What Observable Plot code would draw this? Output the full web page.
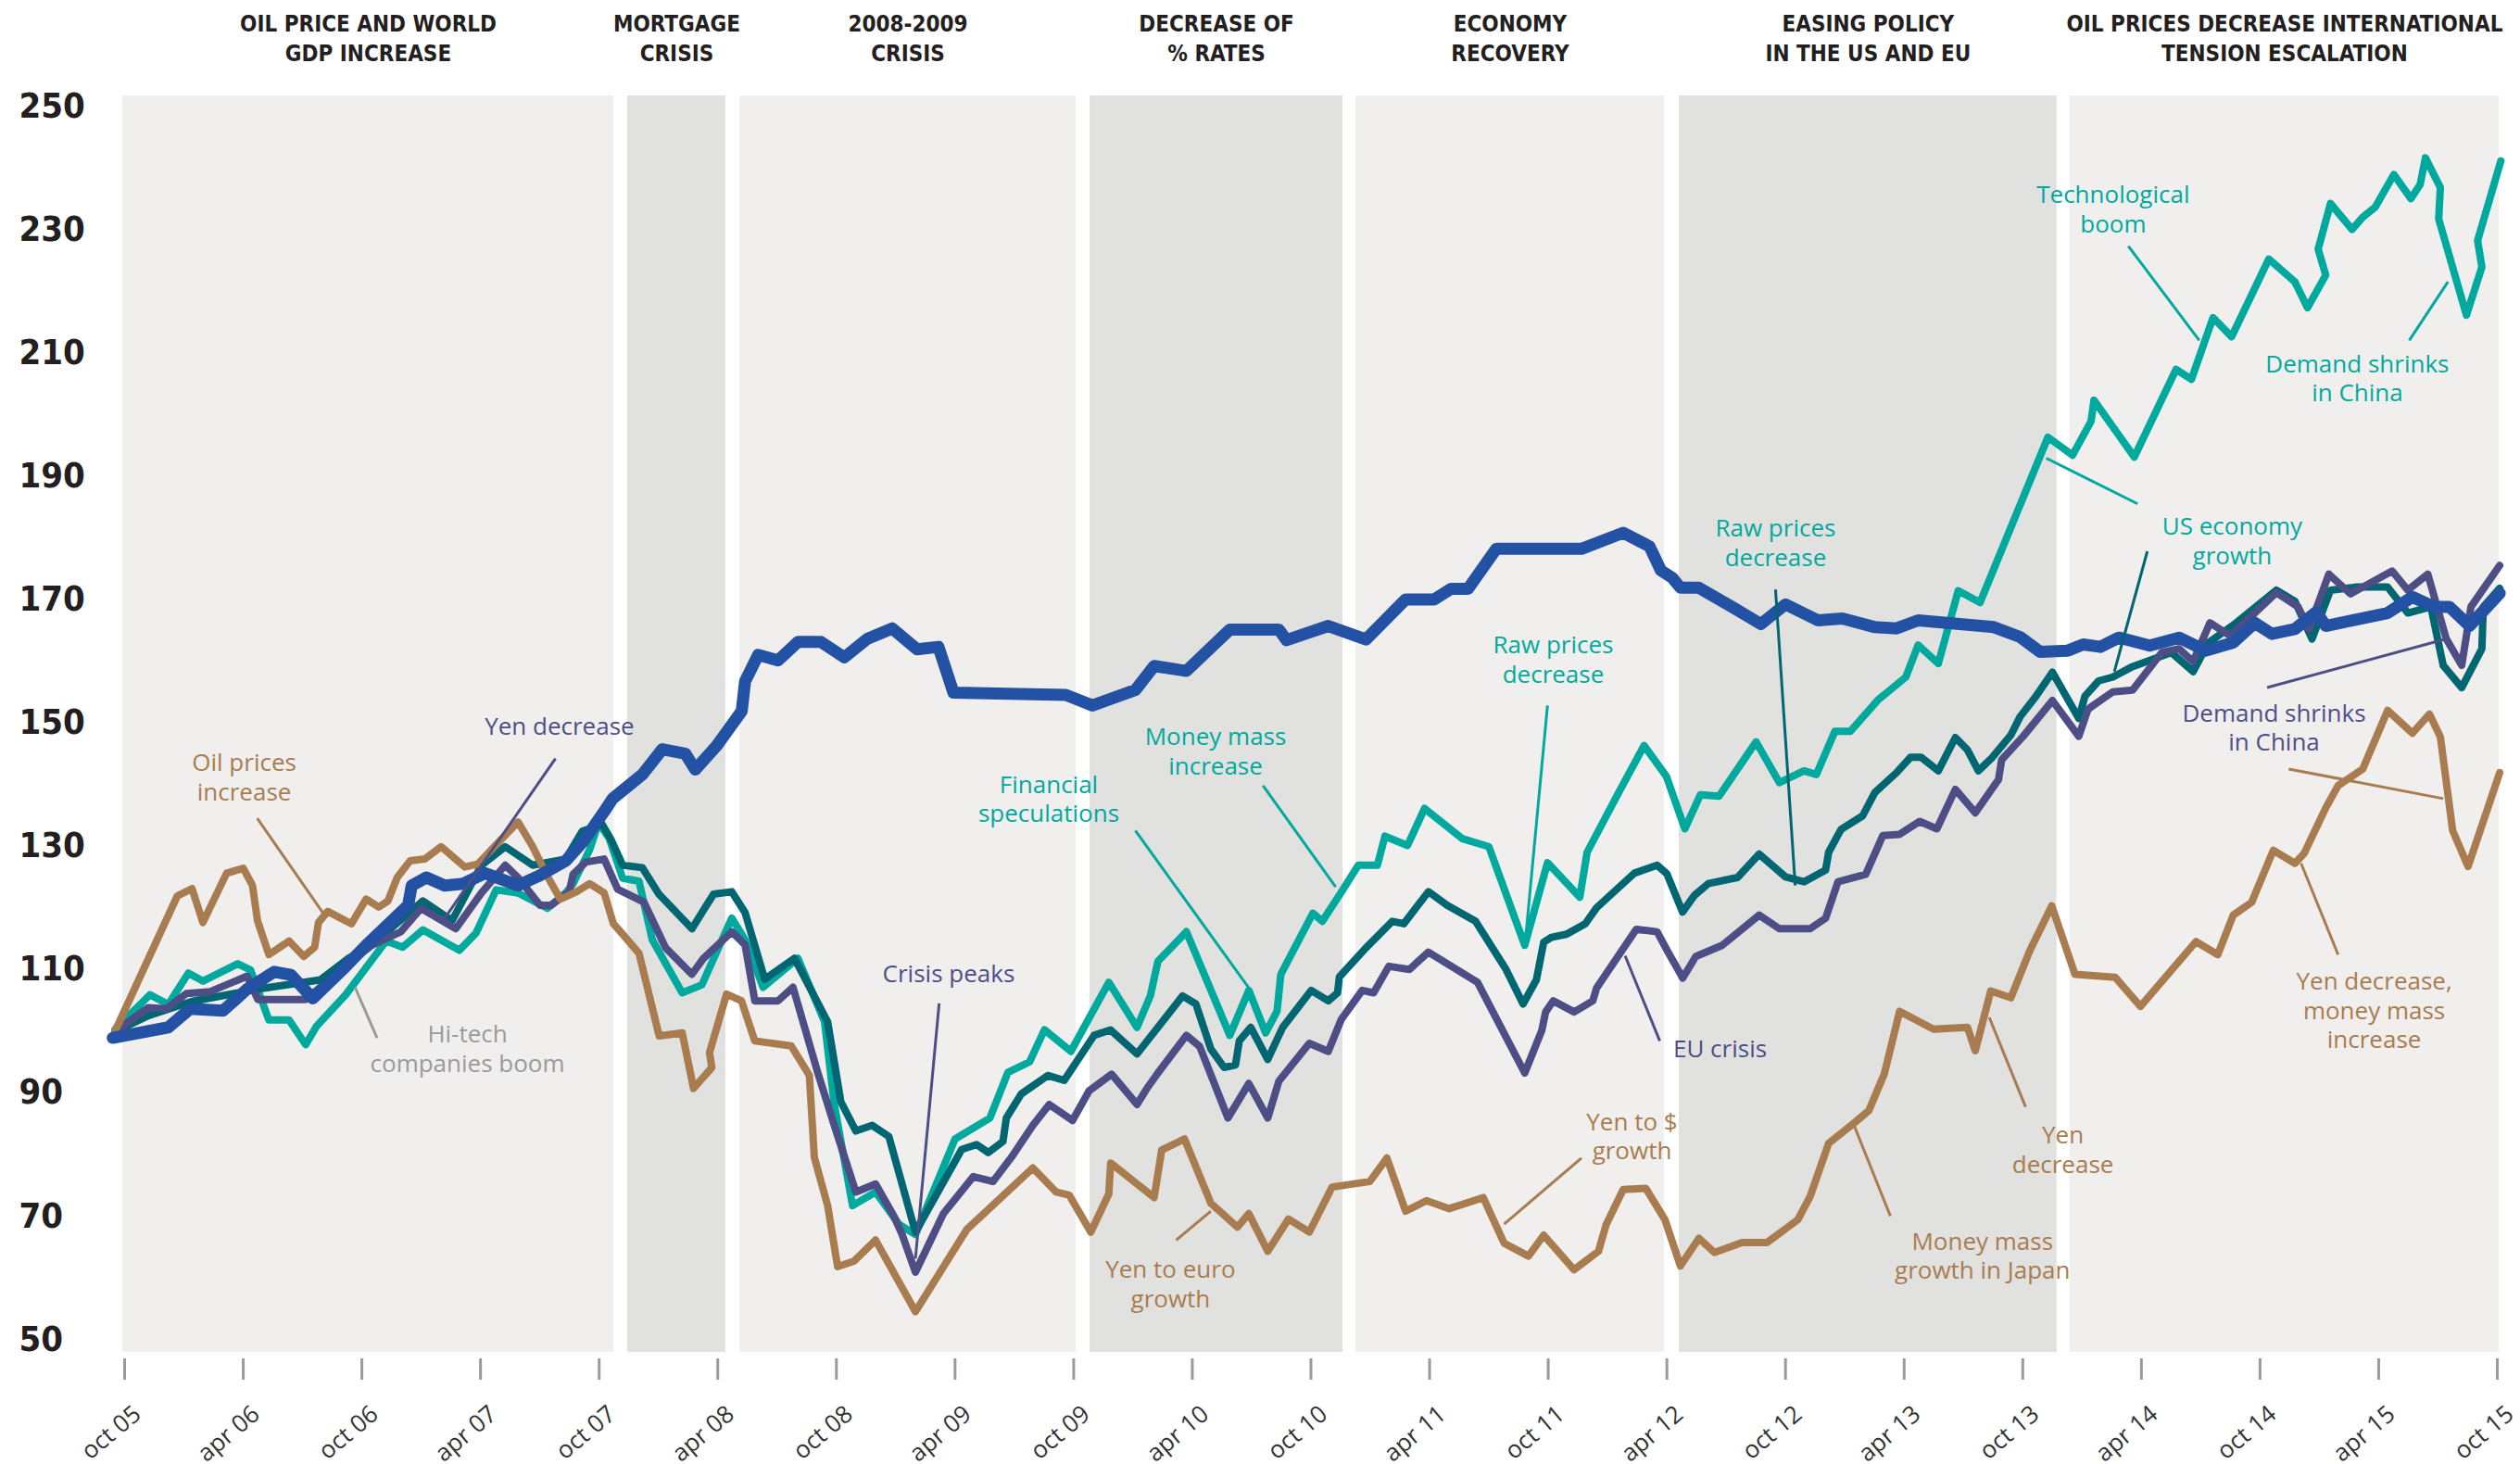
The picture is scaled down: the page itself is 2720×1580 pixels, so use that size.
<!DOCTYPE html>
<html><head><meta charset="utf-8">
<script src="https://cdn.jsdelivr.net/npm/d3@7"></script>
<script src="https://cdn.jsdelivr.net/npm/@observablehq/plot@0.6"></script>
<style>html,body{margin:0;padding:0;background:#fff}svg{display:block}</style>
</head><body><div id="chart"></div>
<script>
// ---------- axis data ----------
const yTicks = [50, 70, 90, 110, 130, 150, 170, 190, 210, 230, 250];
const xTicks = [2005.75, 2006.25, 2006.75, 2007.25, 2007.75, 2008.25, 2008.75, 2009.25, 2009.75, 2010.25, 2010.75, 2011.25, 2011.75, 2012.25, 2012.75, 2013.25, 2013.75, 2014.25, 2014.75, 2015.25, 2015.75];
const xTickLabels = ["oct 05","apr 06","oct 06","apr 07","oct 07","apr 08","oct 08","apr 09","oct 09","apr 10","oct 10","apr 11","oct 11","apr 12","oct 12","apr 13","oct 13","apr 14","oct 14","apr 15","oct 15"];

// ---------- periods ----------
const periodLabels = ["OIL PRICE AND WORLD\nGDP INCREASE","MORTGAGE\nCRISIS","2008-2009\nCRISIS","DECREASE OF\n% RATES","ECONOMY\nRECOVERY","EASING POLICY\nIN THE US AND EU","OIL PRICES DECREASE INTERNATIONAL\nTENSION ESCALATION"];
const periodStart = [2005.742, 2007.870, 2008.343, 2009.819, 2010.940, 2012.302, 2013.949];
const periodEnd   = [2007.812, 2008.284, 2009.760, 2010.885, 2012.239, 2013.894, 2015.758];
const periodShade = ["#f0efee","#e1e1e0","#f0efee","#e1e1e0","#f0efee","#e1e1e0","#f0efee"];

// ---------- series (decimal year, index value) ----------
const blueDates = [2005.70,2005.934,2006.026,2006.165,2006.266,2006.381,2006.451,2006.543,2006.667,2006.768,2006.945,2006.96,2007.022,2007.099,2007.177,2007.269,2007.408,2007.493,2007.609,2007.686,2007.771,2007.807,2007.932,2008.016,2008.113,2008.155,2008.246,2008.351,2008.365,2008.42,2008.504,2008.588,2008.685,2008.783,2008.88,2008.985,2009.09,2009.18,2009.243,2009.717,2009.829,2010.01,2010.089,2010.225,2010.408,2010.615,2010.647,2010.823,2010.982,2011.149,2011.269,2011.34,2011.412,2011.531,2011.89,2012.066,2012.177,2012.225,2012.273,2012.307,2012.385,2012.529,2012.646,2012.75,2012.887,2012.99,2013.127,2013.218,2013.309,2013.628,2013.739,2013.823,2013.94,2014.005,2014.077,2014.155,2014.285,2014.409,2014.52,2014.637,2014.728,2014.8,2014.897,2014.988,2015.027,2015.288,2015.392,2015.483,2015.548,2015.633,2015.76];
const blueValues = [98.9,100.6,103.6,103.3,106.8,109.6,109.1,105.3,109.9,113.9,120.4,123.6,124.9,123.6,123.9,125.6,123.6,125.1,127.6,130.9,135.6,137.7,141.6,145.7,145.0,142.4,146.3,151.9,156.7,161.0,160.1,163.1,163.1,160.6,163.6,165.3,161.9,162.3,154.9,154.5,152.8,155.3,159.2,158.4,165.1,165.1,163.4,165.7,163.5,170.0,170.0,171.7,171.7,178.2,178.2,180.8,178.6,174.7,173.5,171.9,171.9,168.7,166.0,169.2,166.6,166.9,165.5,165.3,166.6,165.5,163.9,161.5,161.7,162.7,162.3,163.8,162.5,163.8,161.7,163.0,166.2,164.4,165.2,168.0,165.7,167.8,170.4,168.8,168.8,165.7,171.0];

const techDates = [2005.71,2005.857,2005.934,2006.019,2006.08,2006.227,2006.281,2006.358,2006.443,2006.513,2006.559,2006.682,2006.852,2006.922,2007.007,2007.161,2007.231,2007.316,2007.408,2007.532,2007.609,2007.64,2007.71,2007.748,2007.793,2007.849,2007.918,2007.974,2008.1,2008.183,2008.309,2008.365,2008.441,2008.588,2008.7,2008.741,2008.818,2008.915,2009.013,2009.083,2009.25,2009.397,2009.473,2009.564,2009.627,2009.738,2009.898,2010.017,2010.073,2010.105,2010.225,2010.408,2010.488,2010.559,2010.607,2010.623,2010.758,2010.798,2010.886,2010.95,2011.03,2011.062,2011.157,2011.229,2011.388,2011.5,2011.651,2011.747,2011.883,2011.914,2012.05,2012.154,2012.248,2012.326,2012.391,2012.47,2012.626,2012.724,2012.828,2012.88,2012.958,2013.023,2013.14,2013.257,2013.309,2013.394,2013.478,2013.57,2013.856,2013.96,2014.038,2014.05,2014.22,2014.396,2014.461,2014.552,2014.63,2014.787,2014.897,2014.95,2015.027,2014.995,2015.047,2015.138,2015.183,2015.235,2015.314,2015.386,2015.425,2015.447,2015.51,2015.503,2015.575,2015.62,2015.685,2015.667,2015.765];
const techValues = [100.3,105.9,104.3,109.4,108.1,110.9,109.9,101.8,101.8,97.8,100.8,105.9,114.6,113.6,116.4,113.1,115.9,122.9,122.4,119.9,122.4,123.9,129.4,133.8,131.2,124.8,124.3,114.8,106.2,107.5,118.3,114.8,107.1,111.8,101.5,88.1,71.7,73.9,68.7,67.0,82.5,85.9,93.3,95.0,100.2,96.7,107.9,100.6,105.7,111.3,116.1,99.3,106.6,99.7,103.2,109.2,119.1,117.8,123.0,126.9,126.9,131.6,130.1,136.1,131.2,129.9,113.9,127.3,121.7,129.0,138.9,146.3,141.3,132.8,138.3,138.1,146.9,140.3,142.2,141.6,148.6,148.6,153.7,157.4,162.6,159.6,171.4,169.5,196.3,193.4,198.9,202.3,193.1,207.3,205.7,215.7,212.6,225.2,221.5,217.3,222.6,226.8,234.2,230.0,232.0,233.6,238.9,235.0,237.3,241.6,236.8,231.7,222.1,216.1,223.9,228.2,241.1];

const usDates = [2005.71,2005.85,2006.034,2006.31,2006.575,2006.698,2006.775,2007.007,2007.13,2007.254,2007.354,2007.47,2007.609,2007.679,2007.763,2007.802,2007.849,2007.932,2008.002,2008.141,2008.232,2008.309,2008.365,2008.448,2008.573,2008.713,2008.769,2008.832,2008.901,2008.971,2009.083,2009.278,2009.341,2009.39,2009.452,2009.466,2009.529,2009.641,2009.71,2009.836,2009.905,2010.017,2010.209,2010.265,2010.328,2010.384,2010.432,2010.448,2010.496,2010.568,2010.615,2010.631,2010.751,2010.823,2010.862,2010.87,2010.982,2011.093,2011.141,2011.245,2011.324,2011.444,2011.572,2011.644,2011.7,2011.731,2011.763,2011.827,2011.906,2011.954,2012.113,2012.209,2012.25,2012.316,2012.366,2012.424,2012.548,2012.639,2012.75,2012.828,2012.919,2012.932,2012.984,2013.075,2013.127,2013.218,2013.277,2013.322,2013.394,2013.466,2013.517,2013.563,2013.622,2013.7,2013.739,2013.804,2013.875,2013.986,2014.012,2014.07,2014.129,2014.207,2014.376,2014.468,2014.533,2014.65,2014.819,2014.897,2014.969,2015.047,2015.158,2015.288,2015.373,2015.47,2015.522,2015.6,2015.685,2015.691,2015.76];
const usValues = [99.9,102.5,104.8,106.8,108.3,111.9,113.4,121.1,117.9,126.9,129.9,126.9,127.9,132.4,133.5,130.9,126.9,126.5,122.2,116.6,122.2,122.6,119.2,108.4,111.8,101.5,88.5,83.8,84.7,82.9,67.4,80.8,81.6,80.3,82.1,85.9,89.8,92.8,92.0,99.3,100.2,96.3,105.7,104.4,97.1,94.1,94.5,98.4,100.6,95.4,99.3,100.6,106.6,104.9,106.2,108.8,113.5,117.8,117.4,122.6,120.4,117.8,110.0,104.4,108.3,114.4,115.2,115.7,117.4,120.0,125.6,126.9,125.5,119.3,122.0,123.9,124.9,128.7,125.0,124.2,126.1,129.0,132.7,134.9,138.7,141.9,144.4,144.4,142.2,147.6,145.6,142.2,144.4,148.0,151.0,154.2,158.2,150.7,154.3,156.8,157.4,159.0,161.4,158.3,163.0,166.2,171.5,169.7,163.6,171.5,172.0,172.0,167.8,168.8,159.3,155.7,162.0,168.8,171.8];

const euDates = [2005.71,2005.849,2005.926,2006.011,2006.111,2006.266,2006.312,2006.513,2006.667,2006.79,2006.914,2006.999,2007.146,2007.254,2007.354,2007.408,2007.501,2007.547,2007.624,2007.64,2007.694,2007.771,2007.828,2007.939,2008.03,2008.141,2008.19,2008.309,2008.365,2008.406,2008.504,2008.567,2008.671,2008.741,2008.832,2008.915,2008.992,2009.027,2009.083,2009.201,2009.327,2009.41,2009.487,2009.578,2009.647,2009.745,2009.815,2009.91,2010.017,2010.057,2010.105,2010.225,2010.281,2010.4,2010.488,2010.568,2010.615,2010.743,2010.823,2010.878,2010.966,2011.014,2011.078,2011.165,2011.245,2011.452,2011.651,2011.723,2011.739,2011.771,2011.859,2011.938,2011.954,2012.121,2012.209,2012.255,2012.317,2012.372,2012.483,2012.639,2012.724,2012.854,2012.919,2012.971,2013.088,2013.16,2013.231,2013.316,2013.388,2013.466,2013.55,2013.648,2013.661,2013.752,2013.875,2013.986,2014.025,2014.129,2014.213,2014.336,2014.409,2014.468,2014.539,2014.624,2014.728,2014.819,2014.91,2014.956,2015.04,2015.131,2015.307,2015.373,2015.457,2015.535,2015.6,2015.639,2015.76];
const euValues = [99.9,103.8,103.6,106.1,106.4,108.9,105.1,105.1,110.1,113.9,116.1,119.9,116.6,122.4,126.9,124.9,120.4,120.4,122.6,125.4,127.4,127.9,123.0,120.9,113.5,109.2,111.8,116.1,114.0,104.9,104.9,107.1,93.3,84.7,73.9,75.2,70.0,67.0,60.9,70.4,76.4,75.6,79.5,84.7,88.1,85.5,90.3,93.0,88.1,90.6,93.2,99.3,97.5,85.9,91.5,85.9,91.9,98.0,96.7,101.9,106.6,106.2,110.5,110.0,112.8,107.9,93.2,100.1,103.1,104.9,103.1,104.9,107.0,116.5,116.1,112.8,108.6,112.1,113.9,118.8,116.6,116.6,118.3,124.2,125.4,131.7,131.9,134.0,132.8,139.2,135.4,140.8,144.0,147.8,153.6,147.8,152.2,155.0,155.3,161.4,162.0,159.9,166.2,164.1,167.8,171.1,168.8,165.2,174.1,170.9,174.6,171.5,174.1,163.6,159.3,168.8,175.5];

const yenDates = [2005.71,2005.972,2006.034,2006.08,2006.18,2006.25,2006.289,2006.31,2006.358,2006.443,2006.505,2006.551,2006.567,2006.606,2006.706,2006.768,2006.821,2006.86,2006.899,2006.953,2007.015,2007.084,2007.184,2007.239,2007.308,2007.408,2007.47,2007.532,2007.586,2007.655,2007.71,2007.771,2007.81,2007.856,2007.918,2008.003,2008.10,2008.148,2008.225,2008.215,2008.287,2008.35,2008.406,2008.559,2008.636,2008.657,2008.713,2008.755,2008.825,2008.915,2009.083,2009.299,2009.578,2009.676,2009.731,2009.822,2009.898,2009.906,2010.089,2010.121,2010.217,2010.328,2010.44,2010.488,2010.568,2010.655,2010.743,2010.839,2010.998,2011.07,2011.149,2011.237,2011.333,2011.476,2011.564,2011.667,2011.731,2011.859,2011.962,2011.994,2012.066,2012.161,2012.242,2012.307,2012.385,2012.45,2012.567,2012.672,2012.802,2012.854,2012.932,2013.036,2013.101,2013.166,2013.231,2013.374,2013.517,2013.55,2013.615,2013.7,2013.778,2013.872,2013.97,2014.14,2014.246,2014.48,2014.572,2014.637,2014.715,2014.806,2014.897,2014.936,2015.027,2015.079,2015.183,2015.288,2015.392,2015.464,2015.51,2015.562,2015.627,2015.76];
const yenValues = [100.0,121.9,123.1,117.6,125.6,126.4,123.6,117.9,112.4,114.6,112.1,113.6,117.6,119.4,117.4,121.4,120.1,121.1,124.9,127.6,127.9,129.9,126.6,127.1,129.9,133.9,129.9,125.1,121.4,122.6,123.9,122.4,117.4,115.4,112.6,99.2,99.7,90.7,94.1,96.5,106.0,104.9,98.4,97.6,92.8,79.5,71.7,61.8,62.7,66.1,54.5,67.8,77.8,73.9,73.4,67.4,73.6,78.6,73.0,80.7,82.5,72.1,68.2,70.4,64.3,69.5,67.4,74.7,75.6,79.4,70.8,72.5,71.2,73.0,65.6,63.5,66.9,61.3,64.3,68.6,74.3,74.5,69.4,61.9,66.4,64.1,65.7,65.7,69.4,73.2,81.8,85.0,87.1,93.0,103.2,100.3,100.6,96.8,106.5,105.4,112.9,120.3,109.2,108.7,104.0,114.5,112.4,118.8,120.9,129.3,127.2,128.8,136.2,139.8,142.5,152.0,148.3,151.4,147.7,132.5,126.7,141.9];

// ---------- annotations ----------
const noteText = ["Oil prices\nincrease","Yen decrease","Hi-tech\ncompanies boom","Crisis peaks","Financial\nspeculations","Money mass\nincrease","Raw prices\ndecrease","Yen to euro\ngrowth","Yen to $\ngrowth","EU crisis","Raw prices\ndecrease","Money mass\ngrowth in Japan","Yen\ndecrease","Technological\nboom","Demand shrinks\nin China","US economy\ngrowth","Demand shrinks\nin China","Yen decrease,\nmoney mass\nincrease"];
const noteDate = [2006.254,2007.583,2007.195,2009.223,2009.645,2010.348,2011.771,2010.158,2012.103,2012.474,2012.708,2013.580,2013.919,2014.131,2015.160,2014.633,2014.809,2015.231];
const noteValue = [141.3,149.6,97.3,109.4,137.8,145.5,160.4,59.1,83.1,97.3,179.3,63.7,80.9,233.4,206.0,179.6,149.3,103.5];
const noteColor = ["#a87c4f","#4d4e86","#9a9a9a","#4d4e86","#00a99d","#00a99d","#00a99d","#a87c4f","#a87c4f","#4d4e86","#00a99d","#a87c4f","#a87c4f","#00a99d","#00a99d","#00a99d","#4d4e86","#a87c4f"];

const leaderDate1  = [2006.309,2007.566,2006.814,2009.183,2010.010,2010.548,2011.747,2010.182,2011.890,2012.220,2012.708,2013.192,2013.762,2014.195,2015.379,2014.234,2014.275,2014.780,2014.871,2015.079];
const leaderValue1 = [134.5,144.2,98.9,104.5,132.5,139.8,152.8,66.1,79.4,98.4,171.6,70.0,87.7,227.3,212.0,185.5,177.8,155.7,142.5,112.4];
const leaderDate2  = [2006.587,2007.092,2006.721,2009.083,2010.488,2010.854,2011.651,2010.328,2011.564,2012.074,2012.791,2013.036,2013.609,2014.494,2015.542,2013.849,2014.136,2015.535,2015.522,2014.923];
const leaderValue2 = [119.1,117.9,107.1,63.1,107.0,123.4,113.5,70.8,68.7,112.2,123.6,85.0,102.2,212.0,221.5,192.9,158.3,163.6,137.7,127.2];
const leaderColor  = ["#a87c4f","#4d4e86","#9a9a9a","#4d4e86","#00a99d","#00a99d","#00a99d","#a87c4f","#a87c4f","#4d4e86","#006672","#a87c4f","#a87c4f","#00a99d","#00a99d","#00a99d","#006672","#4d4e86","#a87c4f","#a87c4f"];

// ---------- build tables ----------
const zip = (d, v) => d.map((t, i) => ({t, v: v[i]}));
const periods = periodLabels.map((label, i) => ({label, x1: periodStart[i], x2: periodEnd[i], fill: periodShade[i]}));
const notes = noteText.map((text, i) => ({text, x: noteDate[i], y: noteValue[i], fill: noteColor[i]}));
const leaders = leaderColor.map((c, i) => ({x1: leaderDate1[i], y1: leaderValue1[i], x2: leaderDate2[i], y2: leaderValue2[i], c}));
const series = [
  {rows: zip(techDates, techValues), color: "#00a99d", w: 8},
  {rows: zip(usDates, usValues), color: "#006672", w: 8},
  {rows: zip(euDates, euValues), color: "#4d4e86", w: 8},
  {rows: zip(yenDates, yenValues), color: "#a87c4f", w: 8},
  {rows: zip(blueDates, blueValues), color: "#2351a3", w: 13}
];

const condensed = "'Liberation Sans Narrow','DejaVu Sans Condensed','Roboto Condensed',sans-serif";
const body = "'Open Sans','Noto Sans',sans-serif";

const chart = Plot.plot({
  width: 2720, height: 1580,
  marginLeft: 134, marginRight: 25, marginTop: 103, marginBottom: 114,
  x: {domain: [2005.75, 2015.75], axis: null},
  y: {domain: [46.844, 251.653], axis: null},
  style: {fontFamily: body, background: "#fff", overflow: "visible"},
  marks: [
    Plot.rect(periods, {x1: "x1", x2: "x2", fill: "fill", insetBottom: 7}),
    Plot.text(periods, {x: d => (d.x1 + d.x2) / 2, text: "label", frameAnchor: "top", dy: -64, lineAnchor: "middle", lineHeight: 1.33, fontSize: 24, fontWeight: 700, fontFamily: condensed, fill: "#231f20"}),
    Plot.text(yTicks, {y: d => d, text: d => String(d), frameAnchor: "left", textAnchor: "start", dx: -114, fontSize: 38, fontWeight: 700, fontFamily: condensed, fill: "#231f20"}),
    Plot.axisX(xTicks, {tickSize: 23, tickFormat: () => "", stroke: "#9a9a9a", strokeWidth: 3}),
    Plot.text(xTicks, {x: d => d, text: (d, i) => xTickLabels[i], frameAnchor: "bottom", rotate: -40, textAnchor: "end", lineAnchor: "middle", dx: 14, dy: 56, fontSize: 26, fill: "#333"}),
    ...series.map(s => Plot.line(s.rows, {x: "t", y: "v", stroke: s.color, strokeWidth: s.w, strokeLinejoin: "round", strokeLinecap: "round"})),
    Plot.link(leaders, {x1: "x1", y1: "y1", x2: "x2", y2: "y2", stroke: "c", strokeWidth: 3}),
    Plot.text(notes, {x: "x", y: "y", text: "text", fill: "fill", fontSize: 26, lineHeight: 1.21, lineAnchor: "middle", textAnchor: "middle"})
  ]
});
document.getElementById("chart").appendChild(chart);
</script>
</body></html>
